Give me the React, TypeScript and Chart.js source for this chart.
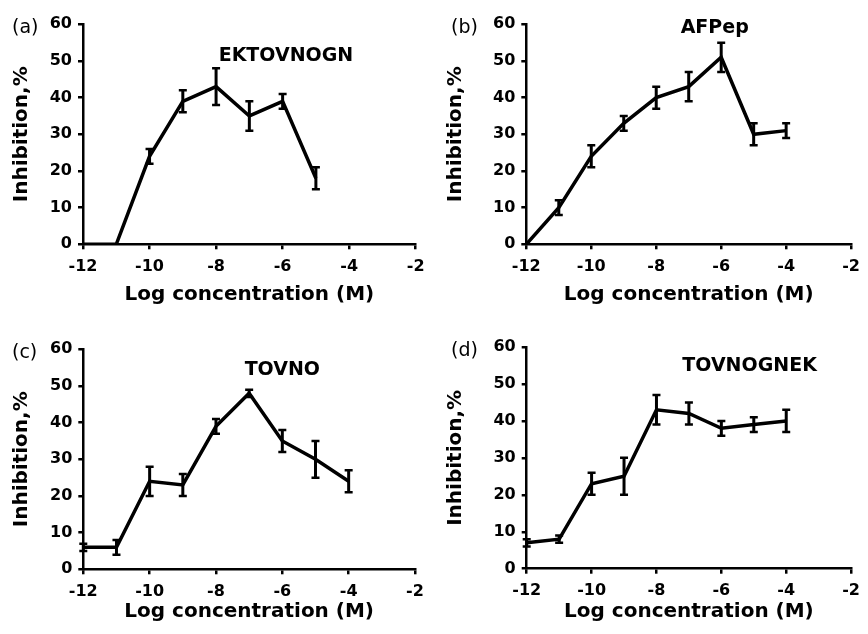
import React, { useEffect, useRef } from 'react';
import { Chart, registerables } from 'chart.js';

Chart.register(...registerables);

// ---------- data ----------
const xTickValues = [-12, -10, -8, -6, -4, -2];
const yTickValues = [0, 10, 20, 30, 40, 50, 60];

const ektovnognLogConc = [-12, -11, -10, -9, -8, -7, -6, -5];
const ektovnognInhibition = [0, 0, 24, 39, 43, 35, 39, 18];
const ektovnognError = [0, 0, 2, 3, 5, 4, 2, 3];

const afpepLogConc = [-12, -11, -10, -9, -8, -7, -6, -5, -4];
const afpepInhibition = [0, 10, 24, 33, 40, 43, 51, 30, 31];
const afpepError = [0, 2, 3, 2, 3, 4, 4, 3, 2];

const tovnoLogConc = [-12, -11, -10, -9, -8, -7, -6, -5, -4];
const tovnoInhibition = [6, 6, 24, 23, 39, 48, 35, 30, 24];
const tovnoError = [1, 2, 4, 3, 2, 1, 3, 5, 3];

const tovnognekLogConc = [-12, -11, -10, -9, -8, -7, -6, -5, -4];
const tovnognekInhibition = [7, 8, 23, 25, 43, 42, 38, 39, 40];
const tovnognekError = [1, 1, 3, 5, 4, 3, 2, 2, 3];

const panelLetters = ['(a)', '(b)', '(c)', '(d)'];
const peptideNames = ['EKTOVNOGN', 'AFPep', 'TOVNO', 'TOVNOGNEK'];
const peptideLabelAt = [
  [-5.9, 52],
  [-6.2, 59.5],
  [-6.0, 54.8],
  [-5.13, 55.5],
];

const xTitle = 'Log concentration (M)';
const yTitle = 'Inhibition,%';

// ---------- layout (not data) ----------
const PW = 434;
const PH = 317;
const layouts = [
  { left: 0, top: 0, areaL: 83, areaR: 415.7, areaT: 24.3, areaB: 244.3, letterX: 12 },
  { left: 434, top: 0, areaL: 92.3, areaR: 425, areaT: 24.3, areaB: 244.3, letterX: 17 },
  { left: 0, top: 317, areaL: 83.3, areaR: 415, areaT: 32.3, areaB: 252.3, letterX: 12 },
  { left: 434, top: 317, areaL: 92.7, areaR: 426.7, areaT: 30, areaB: 251.7, letterX: 17 },
];

const panels = [
  { xs: ektovnognLogConc, ys: ektovnognInhibition, errs: ektovnognError },
  { xs: afpepLogConc, ys: afpepInhibition, errs: afpepError },
  { xs: tovnoLogConc, ys: tovnoInhibition, errs: tovnoError },
  { xs: tovnognekLogConc, ys: tovnognekInhibition, errs: tovnognekError },
];

const BOLD = 'DejaVu Sans';
const REG = 'DejaVu Sans';

function makeChart(canvas: HTMLCanvasElement, idx: number) {
  const p = panels[idx];
  const L = layouts[idx];
  const errs = p.errs;

  const errorBars = {
    id: 'errorBars' + idx,
    afterDatasetsDraw(chart: any) {
      const ctx = chart.ctx;
      const xs = chart.scales.x;
      const ysc = chart.scales.y;
      const data = chart.data.datasets[0].data as { x: number; y: number }[];
      ctx.save();
      ctx.strokeStyle = '#000';
      ctx.lineCap = 'butt';
      data.forEach((pt, i) => {
        const e = errs[i];
        if (!e) return;
        const px = xs.getPixelForValue(pt.x);
        const top = ysc.getPixelForValue(pt.y + e);
        const bot = ysc.getPixelForValue(pt.y - e);
        ctx.lineWidth = 3;
        ctx.beginPath();
        ctx.moveTo(px, top);
        ctx.lineTo(px, bot);
        ctx.stroke();
        ctx.lineWidth = 2.5;
        ctx.beginPath();
        ctx.moveTo(px - 4, top);
        ctx.lineTo(px + 4, top);
        ctx.moveTo(px - 4, bot);
        ctx.lineTo(px + 4, bot);
        ctx.stroke();
      });
      ctx.restore();
    },
  };

  const labels = {
    id: 'labels' + idx,
    afterDraw(chart: any) {
      const ctx = chart.ctx;
      const area = chart.chartArea;
      ctx.save();
      ctx.fillStyle = '#000';
      ctx.textBaseline = 'alphabetic';
      // panel letter
      ctx.font = `19px "${REG}"`;
      ctx.textAlign = 'left';
      ctx.fillText(panelLetters[idx], L.letterX, area.top + 9);
      // peptide name
      const [lx, ly] = peptideLabelAt[idx];
      const size = 19;
      ctx.font = `bold ${size}px "${BOLD}"`;
      ctx.textAlign = 'center';
      ctx.fillText(
        peptideNames[idx],
        chart.scales.x.getPixelForValue(lx),
        chart.scales.y.getPixelForValue(ly) + size * 0.365
      );
      ctx.restore();
    },
  };

  const tickFont = { family: BOLD, size: 16, weight: 'bold' as const };
  const titleFont = { family: BOLD, size: 20, weight: 'bold' as const };

  return new Chart(canvas, {
    type: 'line',
    data: {
      datasets: [
        {
          data: p.xs.map((x, i) => ({ x, y: p.ys[i] })),
          borderColor: '#000',
          borderWidth: 3.5,
          pointRadius: 0,
          pointHoverRadius: 0,
          tension: 0,
          fill: false,
        },
      ],
    },
    options: {
      animation: false,
      responsive: false,
      maintainAspectRatio: false,
      events: [],
      layout: {
        padding: { left: 0, top: L.areaT, right: PW - L.areaR, bottom: 0 },
      },
      plugins: {
        legend: { display: false },
        tooltip: { enabled: false },
        title: { display: false },
      },
      scales: {
        x: {
          type: 'linear',
          min: xTickValues[0],
          max: xTickValues[xTickValues.length - 1],
          afterBuildTicks: (s: any) => {
            s.ticks = xTickValues.map((v) => ({ value: v }));
          },
          afterFit: (s: any) => {
            s.height = PH - L.areaB;
          },
          ticks: {
            font: tickFont,
            color: '#000',
            padding: 8,
            maxRotation: 0,
            autoSkip: false,
            callback: (v: any) => String(v),
          },
          grid: {
            drawOnChartArea: false,
            drawTicks: true,
            tickLength: 5,
            color: '#000',
            lineWidth: 2.5,
          },
          border: { display: true, color: '#000', width: 2.5 },
          title: {
            display: true,
            text: xTitle,
            font: titleFont,
            color: '#000',
            padding: { top: 0, bottom: 10 },
          },
        },
        y: {
          type: 'linear',
          min: yTickValues[0],
          max: yTickValues[yTickValues.length - 1],
          afterBuildTicks: (s: any) => {
            s.ticks = yTickValues.map((v) => ({ value: v }));
          },
          afterFit: (s: any) => {
            s.width = L.areaL;
          },
          ticks: {
            font: tickFont,
            color: '#000',
            padding: 6,
            autoSkip: false,
            callback: (v: any) => String(v),
          },
          grid: {
            drawOnChartArea: false,
            drawTicks: true,
            tickLength: 5,
            color: '#000',
            lineWidth: 2.5,
          },
          border: { display: true, color: '#000', width: 2.5 },
          title: {
            display: true,
            text: yTitle,
            font: titleFont,
            color: '#000',
            padding: { top: 10, bottom: 0 },
          },
        },
      },
    } as any,
    plugins: [errorBars, labels],
  });
}

function Panel({ idx }: { idx: number }) {
  const ref = useRef<HTMLCanvasElement | null>(null);
  useEffect(() => {
    if (!ref.current) return;
    const chart = makeChart(ref.current, idx);
    return () => chart.destroy();
  }, [idx]);
  const L = layouts[idx];
  return (
    <canvas
      ref={ref}
      width={PW}
      height={PH}
      style={{ position: 'absolute', left: L.left, top: L.top, width: PW, height: PH, display: 'block' }}
    />
  );
}

export default function App() {
  return (
    <div style={{ position: 'absolute', left: 0, top: 0, width: 868, height: 634, background: '#fff', overflow: 'hidden' }}>
      {[0, 1, 2, 3].map((i) => (
        <Panel key={i} idx={i} />
      ))}
    </div>
  );
}
